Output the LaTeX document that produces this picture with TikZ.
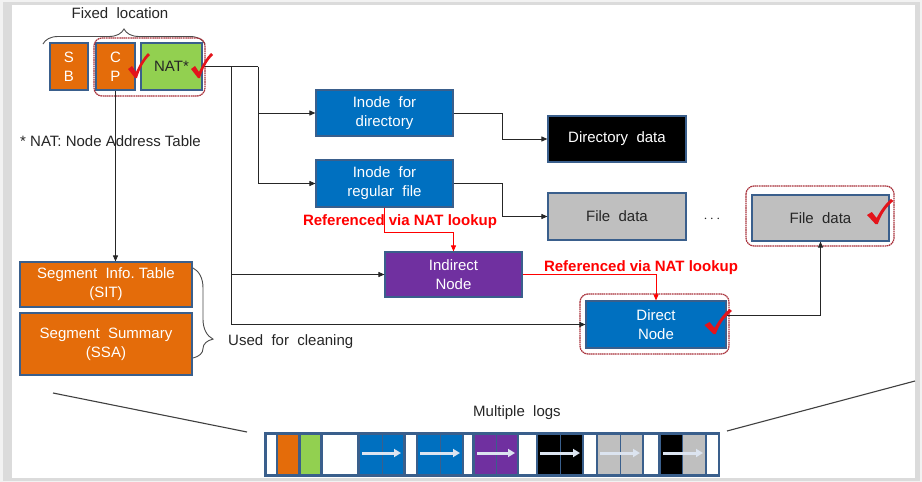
\documentclass[tikz,border=0pt]{standalone}
\usepackage{fontspec}
\setmainfont{Liberation Sans}
\usetikzlibrary{arrows.meta,decorations.pathreplacing}

\definecolor{orng}{HTML}{E46C0A}
\definecolor{lgreen}{HTML}{92D050}
\definecolor{mblue}{HTML}{0070C0}
\definecolor{purp}{HTML}{7030A0}
\definecolor{lgray}{HTML}{BFBFBF}
\definecolor{edge}{HTML}{3A5F8C}
\definecolor{redline}{HTML}{FF0000}
\definecolor{chkred}{HTML}{E3141B}
\definecolor{frm}{HTML}{A8303A}
\definecolor{logarrow}{HTML}{DCE4F0}

\tikzset{
  box/.style={draw=edge, line width=1.2pt, inner sep=0pt, align=center,
    text=white, font=\fontsize{15}{19}\selectfont},
  arr/.style={draw=black!85, line width=0.9pt, -{Triangle[length=6pt,width=5pt]}},
  rarr/.style={draw=redline, line width=0.9pt, -{Triangle[length=6pt,width=5pt]}},
  plain/.style={draw=black!85, line width=0.9pt},
  redlbl/.style={text=redline, font=\bfseries\fontsize{15}{18}\selectfont, inner sep=0pt},
  txt/.style={text=black!85, font=\fontsize{15}{18}\selectfont, inner sep=0pt},
  selframe/.style={draw=frm, line width=1.2pt, dash pattern=on 1.6pt off 0.6pt, rounded corners=8pt},
  logarr/.style={draw=logarrow, line width=3pt, -{Triangle[length=7pt,width=8pt]}},
  chk/.pic={\fill[chkred] (-10,3) -- (-6,0) -- (-2,6) .. controls (2,-3) and (6,-9) .. (10,-13)
      -- (12,-11) .. controls (6,-5) and (2,2) .. (-1,12) -- (-3,12) -- cycle;}
}

\begin{document}
\begin{tikzpicture}[x=1pt,y=-1pt]
\useasboundingbox (0,0) rectangle (922,482);

% page and its shadow
\fill[gray!10] (0,0) rectangle (922,482);
\fill[gray!28] (3,2) rectangle (920,481);
\fill[white] (12,5) rectangle (915,478);

% fixed-location area: SB, CP, NAT
\node[txt] (fixed) at (120,13) {Fixed\ \ location};
\draw[decorate, decoration={brace, amplitude=15pt}, line width=0.9pt, black!70] (43,44) -- (205,44);

\node[box, fill=orng, minimum width=38pt, minimum height=47pt] (sb) at (69,66.5) {S\\B};
\node[box, fill=orng, minimum width=39pt, minimum height=47pt] (cp) at (115.5,66.5) {C\\P};
\node[box, fill=lgreen, text=black!85, minimum width=61pt, minimum height=47pt] (nat) at (171.5,66.5) {NAT*};
\draw[selframe] (94,38) rectangle (205,96);

\node[txt, anchor=west] (natnote) at (20,141) {* NAT: Node Address Table};

% node and data blocks
\node[box, fill=mblue, minimum width=137pt, minimum height=46pt] (idir) at (384.5,113) {Inode\ \ for\\directory};
\node[box, fill=mblue, minimum width=137pt, minimum height=47pt] (ireg) at (384.5,183.5) {Inode\ \ for\\regular\ \ file};
\node[box, fill=black, minimum width=138pt, minimum height=46pt] (ddata) at (617,139) {Directory\ \ data};
\node[box, fill=lgray, text=black!85, minimum width=138pt, minimum height=47pt] (fdata) at (617,216.5) {File\ \ data};
\node[txt] (dots) at (712,219) {$\cdots$};
\node[box, fill=lgray, text=black!85, minimum width=137pt, minimum height=46pt] (fdatab) at (820.5,218) {File\ \ data};
\draw[selframe] (746,186) rectangle (894,246);

\node[box, fill=purp, minimum width=137pt, minimum height=45pt] (indir) at (453.5,274.5) {Indirect\\Node};
\node[box, fill=mblue, minimum width=140pt, minimum height=47pt] (dnode) at (656,324.5) {Direct\\Node};
\draw[selframe] (580,294) rectangle (729,354);

% segment metadata
\node[box, fill=orng, minimum width=172pt, minimum height=45pt] (sit) at (106,284.5) {Segment\ \ Info.\ Table\\(SIT)};
\node[box, fill=orng, minimum width=172pt, minimum height=62pt] (ssa) at (106,344) {Segment\ \ Summary\\(SSA)};
\draw[decorate, decoration={brace, amplitude=20pt, aspect=0.79}, line width=0.9pt, black!70] (193,268) -- (193,358);
\node[txt, anchor=west] (clean) at (228,342) {Used\ \ for\ \ cleaning};

% NAT fan-out
\coordinate (ja) at (231,66.5);
\coordinate (jb) at (258,66.5);
\draw[plain] (nat.east) -- (jb);
\draw[arr] (jb) |- (idir.west);
\draw[arr] (jb) |- (ireg.west);
\draw[arr] (ja) |- (indir.west);
\draw[arr] (ja) |- (dnode.west);
\draw[arr] (cp.south) -- (cp.south |- sit.north);

% inode to data
\draw[arr] (idir.east) -- ++(49,0) |- (ddata.west);
\draw[arr] (ireg.east) -- ++(49,0) |- (fdata.west);
\draw[arr] ([yshift=9pt]dnode.east) -| (fdatab.south);

% NAT lookups
\draw[rarr] (ireg.south) -- ++(0,25) -| (indir.north);
\node[redlbl] (look1) at (400,222) {Referenced via NAT lookup};
\draw[rarr] (indir.east) -| (dnode.north);
\node[redlbl] (look2) at (641,268) {Referenced via NAT lookup};

% check marks
\pic at (138,66) {chk};
\pic at (201,66) {chk};
\pic[xscale=1.25] at (717,322) {chk};
\pic[xscale=1.2] at (879,212) {chk};

% log layout
\coordinate (zl0) at (53,393);
\coordinate (zl1) at (247,432);
\coordinate (zr0) at (727,431);
\coordinate (zr1) at (915,381);
\draw[black!75, line width=1.1pt] (zl0) -- (zl1);
\draw[black!75, line width=1.1pt] (zr0) -- (zr1);
\node[txt] (mlogs) at (517,413) {Multiple\ \ logs};

\fill[edge] (264,432) rectangle (720,477);
\foreach \a/\b/\c in {267/276/white, 278/298/orng, 301/320/lgreen, 323/357/white,
    360/381.5/mblue, 382.5/403/mblue, 406/416/white,
    418/439.5/mblue, 440.5/462/mblue, 464/472/white,
    475/495.5/purp, 496.5/517/purp, 519/536/white,
    538/559.5/black, 560.5/582/black, 584/596/white,
    598/619.5/lgray, 620.5/642/lgray, 644/658/white,
    661/682/black, 683/705/lgray, 707/718/white}
  \fill[\c] (\a,435) rectangle (\b,474);
\foreach \a/\b in {362/401, 420/460, 477/515, 540/580, 600/640, 663/703}
  \draw[logarr] (\a,453) -- (\b,453);
\end{tikzpicture}
\end{document}
